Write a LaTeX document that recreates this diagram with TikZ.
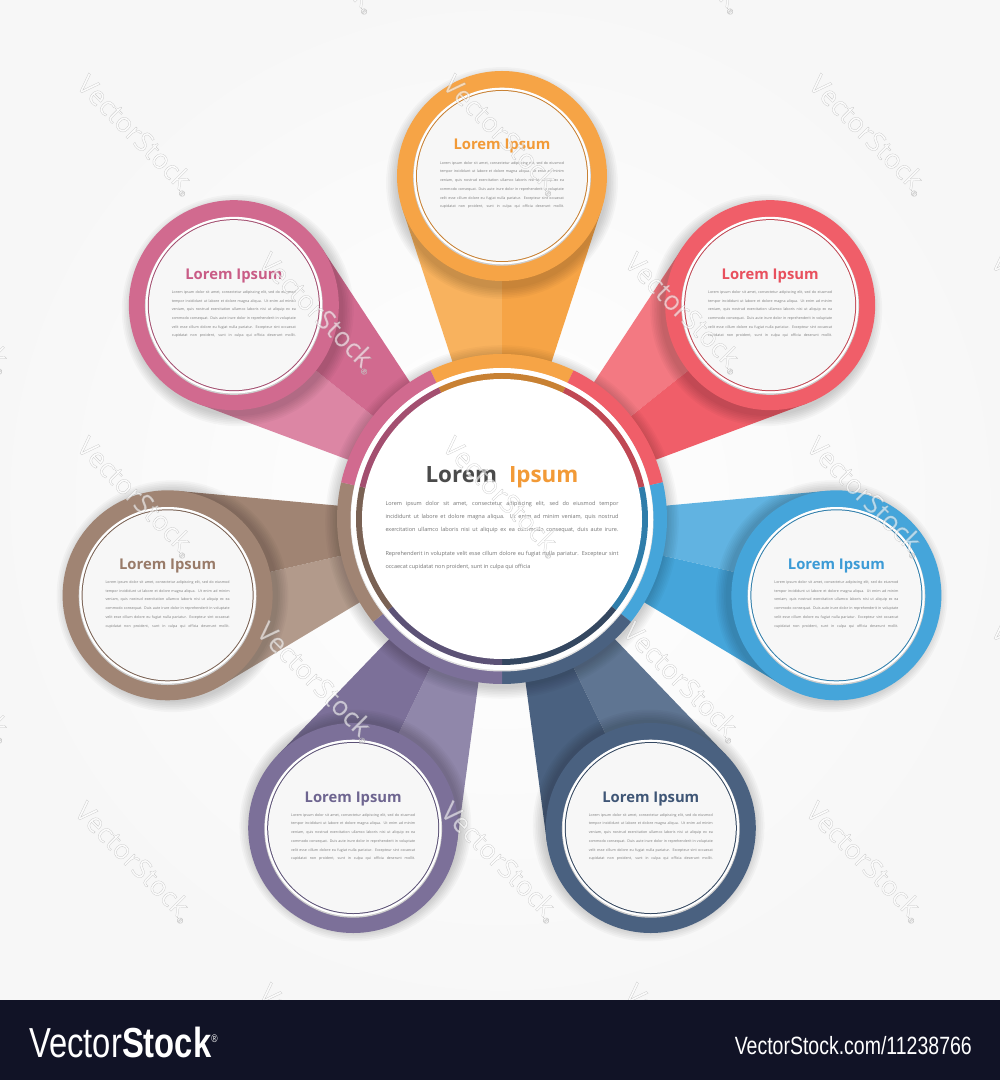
\documentclass[tikz,border=0pt]{standalone}
\usepackage{fontspec}
\setmainfont{Open Sans}
\newfontfamily\barfont[FakeStretch=0.78]{Liberation Sans}
\newfontfamily\wmfont[FakeBold=0.8]{Open Sans}
\usetikzlibrary{calc}
\definecolor{orB}{HTML}{F6A446}\definecolor{orL}{HTML}{F8B25E}\definecolor{orD}{HTML}{C88133}\definecolor{orT}{HTML}{F29A37}
\definecolor{reB}{HTML}{F05E69}\definecolor{reL}{HTML}{F37982}\definecolor{reD}{HTML}{C04854}\definecolor{reT}{HTML}{E8505D}
\definecolor{blB}{HTML}{45A5DA}\definecolor{blL}{HTML}{61B3E1}\definecolor{blD}{HTML}{2F7DAA}\definecolor{blT}{HTML}{3C9BD6}
\definecolor{naB}{HTML}{4A6180}\definecolor{naL}{HTML}{5F7592}\definecolor{naD}{HTML}{344760}\definecolor{naT}{HTML}{3F5676}
\definecolor{puB}{HTML}{7C7099}\definecolor{puL}{HTML}{9087AA}\definecolor{puD}{HTML}{5C5276}\definecolor{puT}{HTML}{6E6590}
\definecolor{brB}{HTML}{A08473}\definecolor{brL}{HTML}{B29A8B}\definecolor{brD}{HTML}{7A6254}\definecolor{brT}{HTML}{997B69}
\definecolor{piB}{HTML}{D16A8F}\definecolor{piL}{HTML}{DC86A4}\definecolor{piD}{HTML}{A34F70}\definecolor{piT}{HTML}{C95C86}
\definecolor{bodygray}{HTML}{7A7A7A}
\definecolor{titlegray}{HTML}{4B4B4B}
\definecolor{innerfill}{HTML}{F7F7F7}
\definecolor{barcol}{HTML}{111326}
\newcommand\pline[1]{\makebox[\linewidth][s]{#1}\par}
\newcommand\petaltext{%
\pline{Lorem ipsum dolor sit amet, consectetur adipiscing elit, sed do eiusmod}%
\pline{tempor incididunt ut labore et dolore magna aliqua. Ut enim ad minim}%
\pline{veniam, quis nostrud exercitation ullamco laboris nisi ut aliquip ex ea}%
\pline{commodo consequat. Duis aute irure dolor in reprehenderit in voluptate}%
\pline{velit esse cillum dolore eu fugiat nulla pariatur. Excepteur sint occaecat}%
\pline{cupidatat non proident, sunt in culpa qui officia deserunt mollit.}}
\newcommand\wmtext{\color{white}\special{pdf:literal direct 0.62 G}VectorStock\raisebox{-3pt}{\fontsize{8}{8}\selectfont ®}}
\tikzset{
  ptitle/.style={anchor=base, inner sep=0, font=\bfseries\fontsize{14.8}{16}\selectfont},
  pbody/.style={anchor=base, inner sep=0, text=bodygray},
  wm/.style={inner sep=0, rotate=-45, font=\wmfont\fontsize{27}{27}\selectfont}
}
\begin{document}
\begin{tikzpicture}[x=1pt,y=1pt]
\useasboundingbox (0,0) rectangle (1000,1080);
\shade[inner color=white, outer color=black!3] (0,80) rectangle (1000,1080);
\coordinate (C) at (502,561);
% stems
\foreach \k/\cb/\cl in {0/orB/orL,1/reB/reL,2/blB/blL,3/naB/naL,4/puB/puL,5/brB/brL,6/piB/piL}{
  \pgfmathsetmacro\ang{90-51.428571*\k}
  \begin{scope}[shift={(C)}, rotate=\ang]
    \fill[\cl] (140,0) -- (154.5,48.7) -- (310.4,99.7) -- (343,0) -- cycle;
    \fill[\cb] (140,0) -- (154.5,-48.7) -- (310.4,-99.7) -- (343,0) -- cycle;
    \coordinate (p\k) at (343,0);
  \end{scope}
}
% central shadow
\foreach \i in {1,...,8}{
  \fill[black, opacity=0.022] ([yshift=-3pt]C) circle[radius=164+\i*1.6];
}
% central ring
\foreach \k/\cb in {0/orB,1/reB,2/blB,3/naB,4/puB,5/brB,6/piB}{
  \pgfmathsetmacro\ang{90-51.428571*\k}
  \fill[\cb] (C) -- ++({\ang-25.7143}:165) arc[start angle={\ang-25.7143}, delta angle=51.4286, radius=165] -- cycle;
}
\fill[black!12] ([yshift=-1pt]C) circle[radius=151.5];
\fill[white] (C) circle[radius=151];
\foreach \k/\cd in {0/orD,1/reD,2/blD,3/naD,4/puD,5/brD,6/piD}{
  \pgfmathsetmacro\ang{90-51.428571*\k}
  \fill[\cd] (C) -- ++({\ang-25.7143}:146) arc[start angle={\ang-25.7143}, delta angle=51.4286, radius=146] -- cycle;
}
\fill[white] (C) circle[radius=140];
% petal circles
\foreach \k/\cb/\cd in {0/orB/orD,1/reB/reD,2/blB/blD,3/naB/naD,4/puB/puD,5/brB/brD,6/piB/piD}{
  \foreach \i in {1,...,7}{
    \fill[black, opacity=0.028] ($(p\k)!5pt!(C)+(0,-2)$) circle[radius=104+\i*1.7];
  }
  \fill[\cb] (p\k) circle[radius=105];
  \fill[black!20] ($(p\k)+(0,-0.8)$) circle[radius=88.9];
  \fill[white] (p\k) circle[radius=88.3];
  \fill[\cd] (p\k) circle[radius=86];
  \fill[innerfill] (p\k) circle[radius=85];
}
% petal texts
\foreach \k/\ct in {0/orT,1/reT,2/blT,3/naT,4/puT,5/brT,6/piT}{
  \node[ptitle, text=\ct] (t\k) at ($(p\k)+(0,26)$) {Lorem Ipsum};
  \node[pbody] (b\k) at ($(p\k)+(0,11.7)$) {\parbox[t]{124pt}{\fontsize{3.6}{8.68}\selectfont\petaltext}};
}
% central texts
\node[anchor=base, inner sep=0, font=\bfseries\fontsize{22.4}{24}\selectfont] (ctitle) at ($(C)+(0,36.3)$) {\textcolor{titlegray}{Lorem}\hspace{12pt}\textcolor{orT}{Ipsum}};
\node[anchor=base, inner sep=0, text=bodygray!95!black] (cbody) at ($(C)+(0,13)$) {\parbox[t]{233pt}{\fontsize{5.5}{12.9}\selectfont
\pline{Lorem ipsum dolor sit amet, consectetur adipiscing elit, sed do eiusmod tempor}%
\pline{incididunt ut labore et dolore magna aliqua. Ut enim ad minim veniam, quis nostrud}%
\pline{exercitation ullamco laboris nisi ut aliquip ex ea commodo consequat, duis aute irure.}%
\vspace{10.7pt}%
\pline{Reprehenderit in voluptate velit esse cillum dolore eu fugiat nulla pariatur. Excepteur sint}%
\noindent occaecat cupidatat non proident, sunt in culpa qui officia\par}};
% watermarks
\begin{scope}[opacity=0.6]
\foreach \wx/\wy [count=\n] in {318/1127,684/1127,136/945,502/945,868/945,-47/767,318/767,684/767,1050/767,136/583,502/583,866/583,-47/398,316/398,682/398,1050/398,134/218,500/218,865/218,318/36,684/36}{
  \node[wm] (wm\n) at (\wx,\wy) {\wmtext};
}
\end{scope}
% bottom bar
\fill[barcol] (0,0) rectangle (1000,80);
\node[anchor=base west, inner sep=0, text=white, font=\barfont\fontsize{42}{42}\selectfont] (vslogo) at (29,23) {Vector\textbf{Stock}\raisebox{15pt}{\fontsize{11}{11}\selectfont ®}};
\node[anchor=base east, inner sep=0, text=white, font=\barfont\fontsize{25}{25}\selectfont] (vsurl) at (972,25) {VectorStock.com/11238766};
\end{tikzpicture}
\end{document}
